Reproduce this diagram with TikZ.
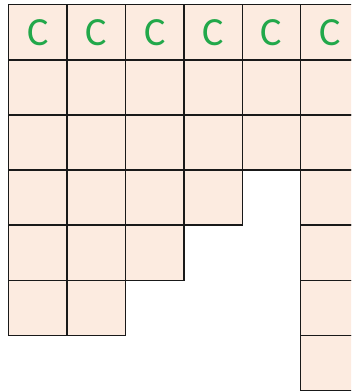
\documentclass[tikz,border=0pt]{standalone}
\usepackage{fontspec}
\newfontfamily\hurufC{Carlito}
\usepackage{xcolor}
\definecolor{persik}{HTML}{FCEBE0}
\definecolor{hijau}{HTML}{22A84A}
\usetikzlibrary{positioning}

\begin{document}
\begin{tikzpicture}[
    x=1pt, y=-1pt,
    sel/.style={draw=black!90, fill=persik, line width=1.4pt, inner sep=0pt,
                minimum width=58.4pt, minimum height=55.1pt, anchor=north west},
    huruf/.style={text=hijau, font=\hurufC\fontsize{40}{40}\selectfont}
  ]
    \useasboundingbox (0,0) rectangle (351,391);
    \clip (0,0) rectangle (351,391);
    % tangga kiri
    \foreach \r/\n in {0/5,1/5,2/5,3/3,4/2,5/1} {
      \foreach \c in {0,...,\n} {
        \node[sel] (sel-\r-\c) at ({8+58.4*\c},{4+55.1*\r}) {};
      }
    }
    % kolom kanan
    \foreach \r in {3,...,6} {
      \node[sel] (sel-\r-5) at ({8+58.4*5},{4+55.1*\r}) {};
    }
    % baris atas
    \foreach \c in {0,...,5} {
      \node[huruf] (hrf-\c) at (sel-0-\c.center) {C};
    }
  \end{tikzpicture}
\end{document}
